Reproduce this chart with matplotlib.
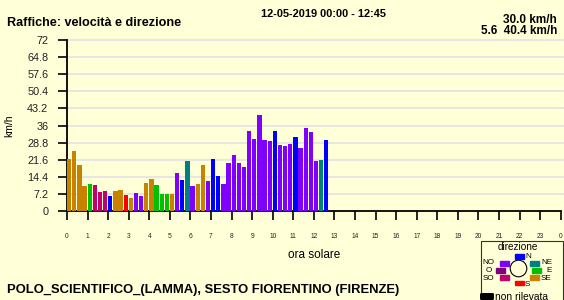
import matplotlib
matplotlib.use("Agg")
import matplotlib.pyplot as plt
from matplotlib.patches import Rectangle, Circle, FancyBboxPatch
import numpy as np

plt.rcParams['font.family'] = ['Liberation Sans', 'DejaVu Sans']

# raffiche ogni 15 minuti (km/h) e direzione
gust = [21.9, 25.3, 19.4, 10.5, 11.4, 10.9, 8.0, 8.4, 6.3, 8.4, 8.8, 6.7, 5.6,
        7.6, 6.3, 11.8, 13.5, 10.9, 7.2, 7.2, 7.2, 16.0, 13.1, 21.1, 10.5, 11.4,
        19.4, 12.8, 21.9, 14.7, 11.4, 20.2, 23.6, 20.2, 18.5, 33.7, 30.3, 40.4,
        29.9, 29.5, 33.7, 27.8, 27.4, 28.2, 31.2, 26.5, 34.9, 33.3, 21.1, 21.5, 30.0]
direz = ['SE', 'SE', 'SE', 'SE', 'E', 'SO', 'SO', 'SO', 'N', 'SE', 'SE', 'S', 'SE',
         'NO', 'NO', 'SE', 'SE', 'E', 'E', 'E', 'SE', 'NO', 'N', 'NE', 'NO', 'SE',
         'SE', 'NO', 'N', 'N', 'NO', 'NO', 'NO', 'NO', 'NO', 'NO', 'NO', 'NO',
         'NO', 'NO', 'N', 'NO', 'NO', 'NO', 'N', 'NO', 'NO', 'NO', 'NO', 'NE', 'N']
yticks = [0, 7.2, 14.4, 21.6, 28.8, 36, 43.2, 50.4, 57.6, 64.8, 72]
ytick_labels = ['0', '7.2', '14.4', '21.6', '28.8', '36', '43.2', '50.4', '57.6', '64.8', '72']
xtick_labels = [str(h) for h in range(24)] + ['0']

colori = {'N': '#0000ff', 'NE': '#008080', 'E': '#00c000', 'SE': '#c88200',
          'S': '#ff0000', 'SO': '#c0006c', 'O': '#800080', 'NO': '#8000ff'}
bg = '#ffffd8'

fig = plt.figure(figsize=(5.64, 3.0), dpi=100, facecolor=bg)
ax = fig.add_axes([67 / 564, 89 / 300, 493.7 / 564, 171 / 300])
ax.set_facecolor(bg)

ore = np.arange(len(gust)) * 0.25
ax.bar(ore, gust, width=0.21, align='edge', color=[colori[d] for d in direz], zorder=3)

ax.set_xlim(0, 24)
ax.set_ylim(0, 72)
ax.set_yticks(yticks)
ax.set_yticklabels(ytick_labels, fontsize=7.8)
ax.set_xticks(range(25))
ax.set_xticklabels(xtick_labels, fontsize=4.8)
ax.tick_params(axis='y', length=6.5, width=1.2, pad=7, colors='black')
ax.tick_params(axis='x', length=6.5, width=1.2, pad=9, colors='black')
for t in ax.get_xticklabels() + ax.get_yticklabels():
    t.set_color('#222222')
# griglia orizzontale fino al bordo destro
for y in yticks[1:]:
    ax.axhline(y, xmin=0, xmax=(563 - 67) / 493.7, color='#e4e4e4',
               linewidth=1.3, zorder=0, clip_on=False)
for s in ['top', 'right']:
    ax.spines[s].set_visible(False)
ax.spines['left'].set_linewidth(1.3)
ax.spines['bottom'].set_linewidth(1.3)
ax.set_ylabel('km/h', fontsize=7.5, labelpad=9)
ax.set_xlabel('ora solare', fontsize=8.5, labelpad=7)

# testi in alto e in basso
fig.text(7 / 564, 1 - 22.5 / 300, 'Raffiche: velocità e direzione', fontsize=9.1,
         fontweight='bold', va='center', ha='left')
fig.text(323 / 564, 1 - 14 / 300, '12-05-2019 00:00 - 12:45', fontsize=7.9,
         fontweight='bold', va='center', ha='center')
fig.text(557 / 564, 1 - 20 / 300, '30.0 km/h', fontsize=8.5,
         fontweight='bold', va='center', ha='right')
fig.text(557 / 564, 1 - 31.5 / 300, '5.6  40.4 km/h', fontsize=8.5,
         fontweight='bold', va='center', ha='right')
fig.text(7 / 564, 1 - 290 / 300, 'POLO_SCIENTIFICO_(LAMMA), SESTO FIORENTINO (FIRENZE)',
         fontsize=9.4, fontweight='bold', va='center', ha='left')

# legenda direzione (coordinate in pixel)
lg = fig.add_axes([0, 0, 1, 1])
lg.set_xlim(0, 564)
lg.set_ylim(300, 0)
lg.axis('off')
lg.add_patch(Rectangle((480.5, 241), 82, 62, fill=False, edgecolor='#333333', linewidth=0.8))
lg.text(518, 247, 'direzione', fontsize=7.2, ha='center', va='center')
lg.add_patch(Circle((518.5, 268.5), 8.3, fill=False, edgecolor='black', linewidth=0.8))
box = {'N': (514.5, 254), 'NE': (530, 261), 'E': (532, 268), 'SE': (530, 275),
       'S': (514.5, 280.5), 'SO': (499.5, 275), 'O': (496, 268), 'NO': (499.5, 261)}
etich = {'N': (525, 256.5, 'left'), 'NE': (541, 263, 'left'), 'E': (546, 270.5, 'left'),
         'SE': (541, 278.5, 'left'), 'S': (525, 285, 'left'), 'SO': (494, 278.5, 'right'),
         'O': (492, 270.5, 'right'), 'NO': (494, 263, 'right')}
for d, (x0, y0) in box.items():
    lg.add_patch(Rectangle((x0, y0), 9, 4.5, color=colori[d]))
    tx, ty, ha = etich[d]
    lg.text(tx, ty, d, fontsize=5.8, ha=ha, va='center')
lg.add_patch(FancyBboxPatch((481.5, 294.5), 11, 4, boxstyle='round,pad=0.8',
                            color='black'))
lg.text(495, 296.5, 'non rilevata', fontsize=7.4, ha='left', va='center')

fig.savefig('out.png', dpi=100, facecolor=bg)
